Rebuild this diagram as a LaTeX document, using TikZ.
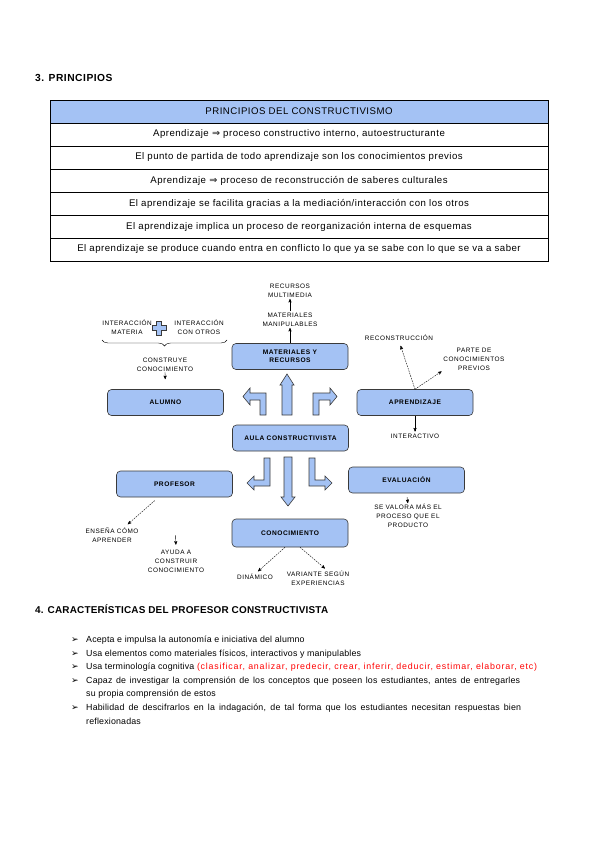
\documentclass[tikz,border=0pt]{standalone}
\usepackage{fontspec}
\setmainfont{Liberation Sans}
\newfontfamily\symfont{DejaVu Sans}
\newfontfamily\tabfont[LetterSpace=5]{Liberation Sans}
\newfontfamily\diafont[LetterSpace=8]{Liberation Sans}
\newfontfamily\itemfont[LetterSpace=2]{Liberation Sans}
\newfontfamily\redfont[LetterSpace=9]{Liberation Sans}
\usetikzlibrary{arrows}
\usetikzlibrary{positioning}
\usetikzlibrary{decorations.pathreplacing}
\newlength\pu
\setlength\pu{0.035cm}
\definecolor{boxblue}{HTML}{A4C2F4}
\definecolor{boxline}{HTML}{3A3A3A}
\tikzset{
  cbox/.style={draw=boxline, fill=boxblue, rounded corners=4\pu, line width=0.6pt,
    minimum width=116\pu, minimum height=26\pu, align=center, inner sep=1pt,
    font=\fontsize{6.6}{7.8}\diafont\bfseries},
  tiny/.style={font=\fontsize{6.4}{8.8}\diafont, align=center, inner sep=0pt},
  trow/.style={draw, line width=0.7pt, minimum width=498\pu, minimum height=23\pu,
    inner sep=0pt, outer sep=0pt, font=\fontsize{9.6}{11}\tabfont},
  blockarrow/.style={draw=boxline, fill=boxblue, line width=0.6pt},
  sol/.style={->, >=stealth', thin},
  note/.style={->, >=stealth', thin, dash pattern=on 1.6pt off 1pt},
  item/.style={anchor=west, inner sep=0pt, font=\fontsize{8.8}{10}\itemfont}
}

\begin{document}
\begin{tikzpicture}[x=0.035cm, y=-0.035cm]
\useasboundingbox (0,0) rectangle (600,848);
% principios
\node[anchor=west, inner sep=0pt, font=\fontsize{10.2}{11}\tabfont\bfseries] (h3) at (35,78) {3. PRINCIPIOS};
\node[trow, fill=boxblue] (t0) at (299,111.5) {PRINCIPIOS DEL CONSTRUCTIVISMO};
\foreach \txt [count=\i] in {
  {Aprendizaje {\symfont ⇒} proceso constructivo interno, autoestructurante},
  {El punto de partida de todo aprendizaje son los conocimientos previos},
  {Aprendizaje {\symfont ⇒} proceso de reconstrucción de saberes culturales},
  {El aprendizaje se facilita gracias a la mediación/interacción con los otros},
  {El aprendizaje implica un proceso de reorganización interna de esquemas},
  {El aprendizaje se produce cuando entra en conflicto lo que ya se sabe con lo que se va a saber}} {
 \node[trow] (t\i) at (299,{111.5+23*\i}) {\txt};
};
% aula constructivista
\node[cbox] (mat) at (290,356.5) {MATERIALES Y\\RECURSOS};
\node[cbox] (alu) at (165.5,402.5) {ALUMNO};
\node[cbox] (apr) at (415,402.5) {APRENDIZAJE};
\node[cbox] (aula) at (290.5,438) {AULA CONSTRUCTIVISTA};
\node[cbox] (prof) at (174.5,484) {PROFESOR};
\node[cbox] (eval) at (406.5,480) {EVALUACIÓN};
\node[cbox, minimum height=28\pu] (con) at (290,533) {CONOCIMIENTO};
% flechas de bloque
\draw[blockarrow] (282,415)--(282,385)--(280,385)--(287,374)--(294,385)--(292,385)--(292,415)--cycle;
\draw[blockarrow] (266,415)--(266,393)--(250,393)--(250,388)--(243,396.5)--(250,405)--(250,400)--(260,400)--(260,415)--cycle;
\draw[blockarrow] (313,415)--(313,393)--(330,393)--(330,388)--(337,396.5)--(330,405)--(330,400)--(319,400)--(319,415)--cycle;
\draw[blockarrow] (284,457)--(292,457)--(292,497)--(295,497)--(288,506)--(281,497)--(284,497)--cycle;
\draw[blockarrow] (264,458)--(270,458)--(270,486)--(254,486)--(254,490)--(247,483)--(254,476)--(254,480)--(264,480)--cycle;
\draw[blockarrow] (309,458)--(315,458)--(315,480)--(325,480)--(325,476)--(332,483)--(325,490)--(325,486)--(309,486)--cycle;
% materiales
\node[tiny] (multi) at (290,291) {RECURSOS\\MULTIMEDIA};
\node[tiny] (manip) at (290,320) {MATERIALES\\MANIPULABLES};
\draw[sol, shorten >=1pt] (mat.north) -- (manip.south);
\draw[sol, shorten <=2pt, shorten >=1pt] (manip.north) -- (multi.south);
% alumno
\node[tiny] (imat) at (127,327.5) {INTERACCIÓN\\MATERIA};
\node[tiny] (iotr) at (199,327.5) {INTERACCIÓN\\CON OTROS};
\draw[blockarrow] (156.5,321)--(161.5,321)--(161.5,325.5)--(166,325.5)--(166,330.5)--(161.5,330.5)--(161.5,335)--(156.5,335)
  --(156.5,330.5)--(152,330.5)--(152,325.5)--(156.5,325.5)--cycle;
\draw[thin, decorate, decoration={brace, mirror, amplitude=6\pu}] (102,340) -- (227,340);
\node[tiny] (cons) at (165,365) {CONSTRUYE\\CONOCIMIENTO};
\draw[sol, shorten >=10\pu] (cons.south) -- (alu.north);
% aprendizaje
\node[tiny] (recon) at (399,338) {RECONSTRUCCIÓN};
\node[tiny] (parte) at (474,359) {PARTE DE\\CONOCIMIENTOS\\PREVIOS};
\draw[note, shorten >=5\pu] (apr.north) -- (recon.south);
\draw[note, shorten >=2\pu] (apr.north) -- (parte.south west);
\node[tiny] (inter) at (415,436) {INTERACTIVO};
\draw[sol, shorten >=2pt] (apr.south) -- (inter.north);
% evaluacion
\node[tiny] (valora) at (408,516) {SE VALORA MÁS EL\\PROCESO QUE EL\\PRODUCTO};
\draw[sol, shorten <=4\pu, shorten >=1pt] (eval.south) -- (valora.north);
% profesor
\node[tiny] (ensena) at (112,535) {ENSEÑA CÓMO\\APRENDER};
\draw[note, shorten <=5\pu, shorten >=5\pu] ([xshift=-16\pu]prof.south) -- ([xshift=12\pu]ensena.north);
\node[tiny] (ayuda) at (176,561) {AYUDA A\\CONSTRUIR\\CONOCIMIENTO};
\draw[sol, shorten <=38\pu, shorten >=5\pu] (prof.south) -- (ayuda.north);
% conocimiento
\node[tiny] (dina) at (255,577) {DINÁMICO};
\node[tiny] (vari) at (318,578.5) {VARIANTE SEGÚN\\EXPERIENCIAS};
\draw[note, shorten >=4\pu] ([xshift=-5\pu]con.south) -- (dina.north);
\draw[note, shorten >=4\pu] ([xshift=10\pu]con.south) -- ([xshift=10\pu]vari.north);
% caracteristicas
\node[anchor=west, inner sep=0pt, font=\fontsize{9.9}{11}\itemfont\bfseries] (h4) at (35,609) {4. CARACTERÍSTICAS DEL PROFESOR CONSTRUCTIVISTA};
\foreach \y in {640,654,667,681,708} {
 \node[anchor=west, inner sep=0pt, font=\fontsize{9}{10}\symfont] at (71,\y) {➢};
};
\node[item] (c1) at (86,640) {Acepta e impulsa la autonomía e iniciativa del alumno};
\node[item] (c2) at (86,654) {Usa elementos como materiales físicos, interactivos y manipulables};
\node[item] (c3) at (86,667) {Usa terminología cognitiva {\redfont\color{red}(clasificar, analizar, predecir, crear, inferir, deducir, estimar, elaborar, etc)}};
\node[item] (c4) at (86,681) {\makebox[434\pu][s]{Capaz de investigar la comprensión de los conceptos que poseen los estudiantes, antes de entregarles}};
\node[item] (c4b) at (86,694) {su propia comprensión de estos};
\node[item] (c5) at (86,708) {\makebox[435\pu][s]{Habilidad de descifrarlos en la indagación, de tal forma que los estudiantes necesitan respuestas bien}};
\node[item] (c5b) at (86,721) {reflexionadas};
\end{tikzpicture}
\end{document}
